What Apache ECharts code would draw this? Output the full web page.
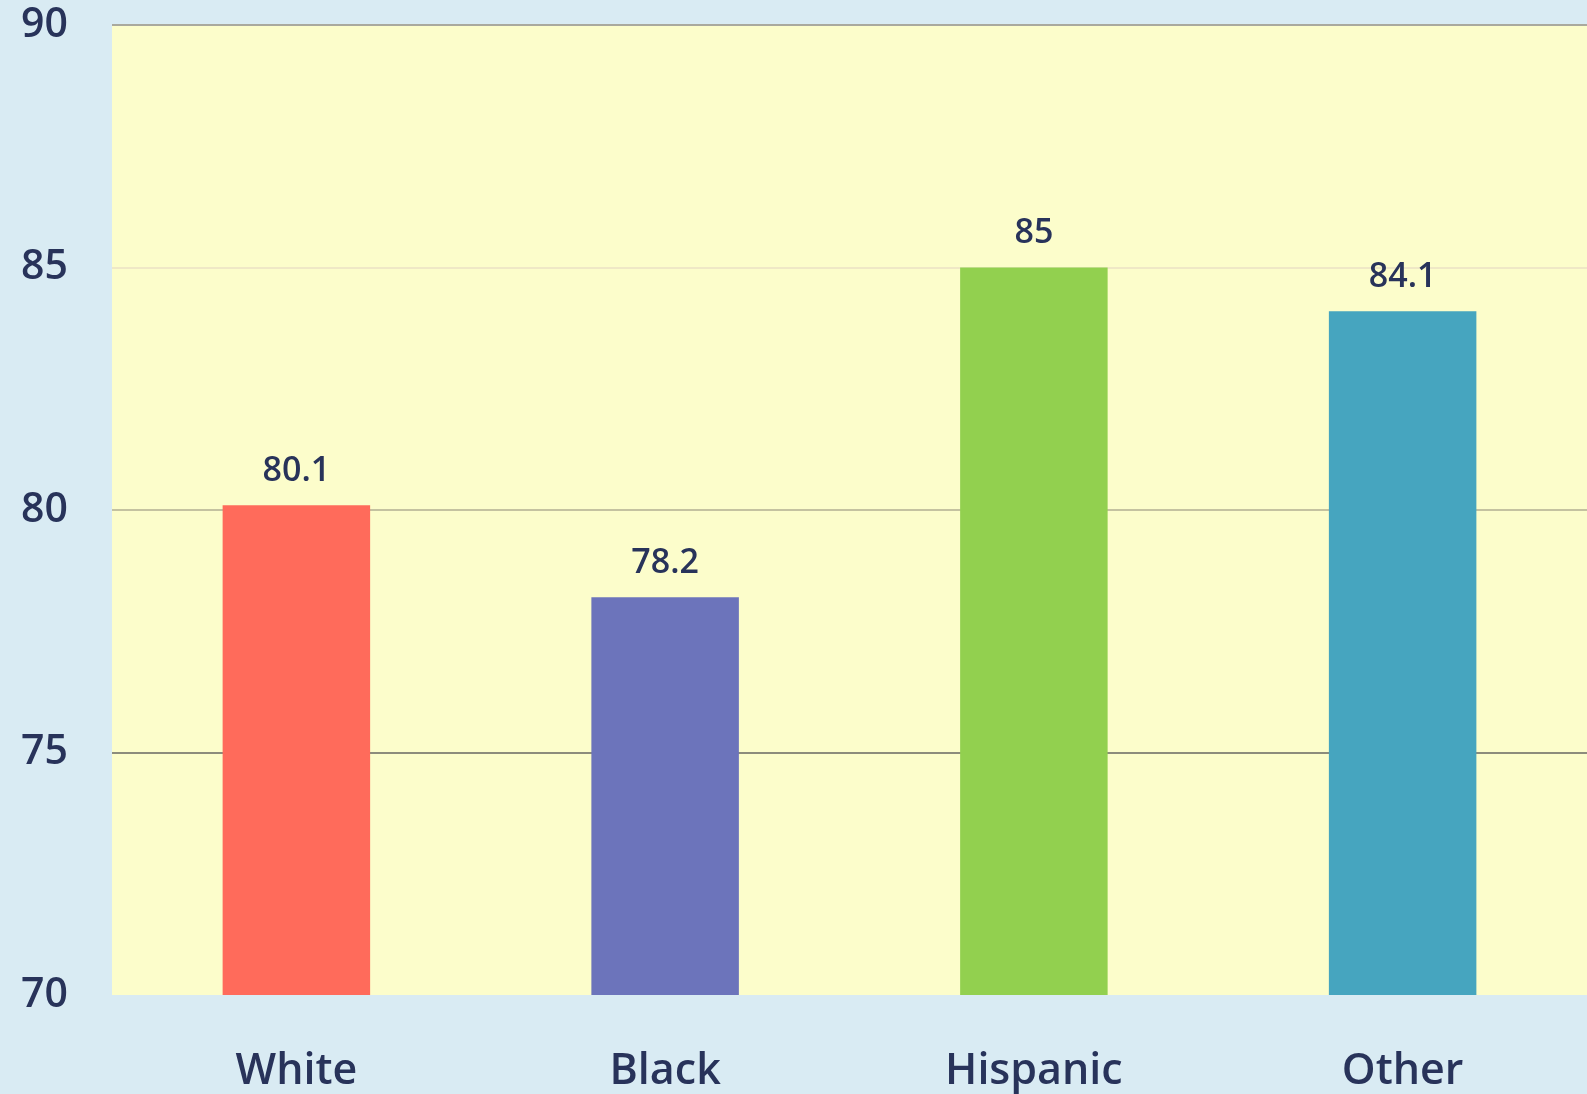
<!DOCTYPE html>
<html>
<head>
<meta charset="utf-8">
<script src="https://cdn.jsdelivr.net/npm/echarts@6/dist/echarts.min.js"></script>
<style>
html,body{margin:0;padding:0;background:#d9ebf3;}
#chart{width:1587px;height:1094px;}
</style>
</head>
<body>
<div id="chart"></div>
<script>
const categories = ['White', 'Black', 'Hispanic', 'Other'];
const values = [80.1, 78.2, 85, 84.1];
const barColors = ['#ff6b5b', '#6c74bb', '#92d04f', '#46a5bf'];
const yTicks = [70, 75, 80, 85, 90];

const textColor = '#28335a';
const fontFam = '"Open Sans", "Noto Sans", sans-serif';

const chart = echarts.init(document.getElementById('chart'));
chart.setOption({
  backgroundColor: '#d9ebf3',
  animation: false,
  grid: {
    left: 112, top: 25, right: -3, bottom: 99,
    show: true, backgroundColor: '#fcfdcb', borderWidth: 0
  },
  xAxis: {
    type: 'category',
    data: categories,
    axisLine: { show: false },
    axisTick: { show: false },
    axisLabel: {
      color: textColor, fontFamily: fontFam, fontSize: 43, fontWeight: 600,
      margin: 55
    }
  },
  yAxis: {
    type: 'value',
    min: yTicks[0], max: yTicks[yTicks.length - 1], interval: 5,
    axisLine: { show: false },
    axisTick: { show: false },
    axisLabel: {
      color: textColor, fontFamily: fontFam, fontSize: 41, fontWeight: 600,
      margin: 44
    },
    splitLine: {
      lineStyle: {
        color: ['rgba(0,0,0,0)', '#8c8c7c', '#c4c2a0', '#efe8c6', '#a9a99e'],
        width: 2
      }
    }
  },
  series: [{
    type: 'bar',
    data: values.map((v, i) => ({ value: v, itemStyle: { color: barColors[i] } })),
    barWidth: '40%',
    label: {
      show: true, position: 'top', distance: 17,
      color: textColor, fontFamily: fontFam, fontSize: 34, fontWeight: 600
    }
  }]
});
</script>
</body>
</html>
